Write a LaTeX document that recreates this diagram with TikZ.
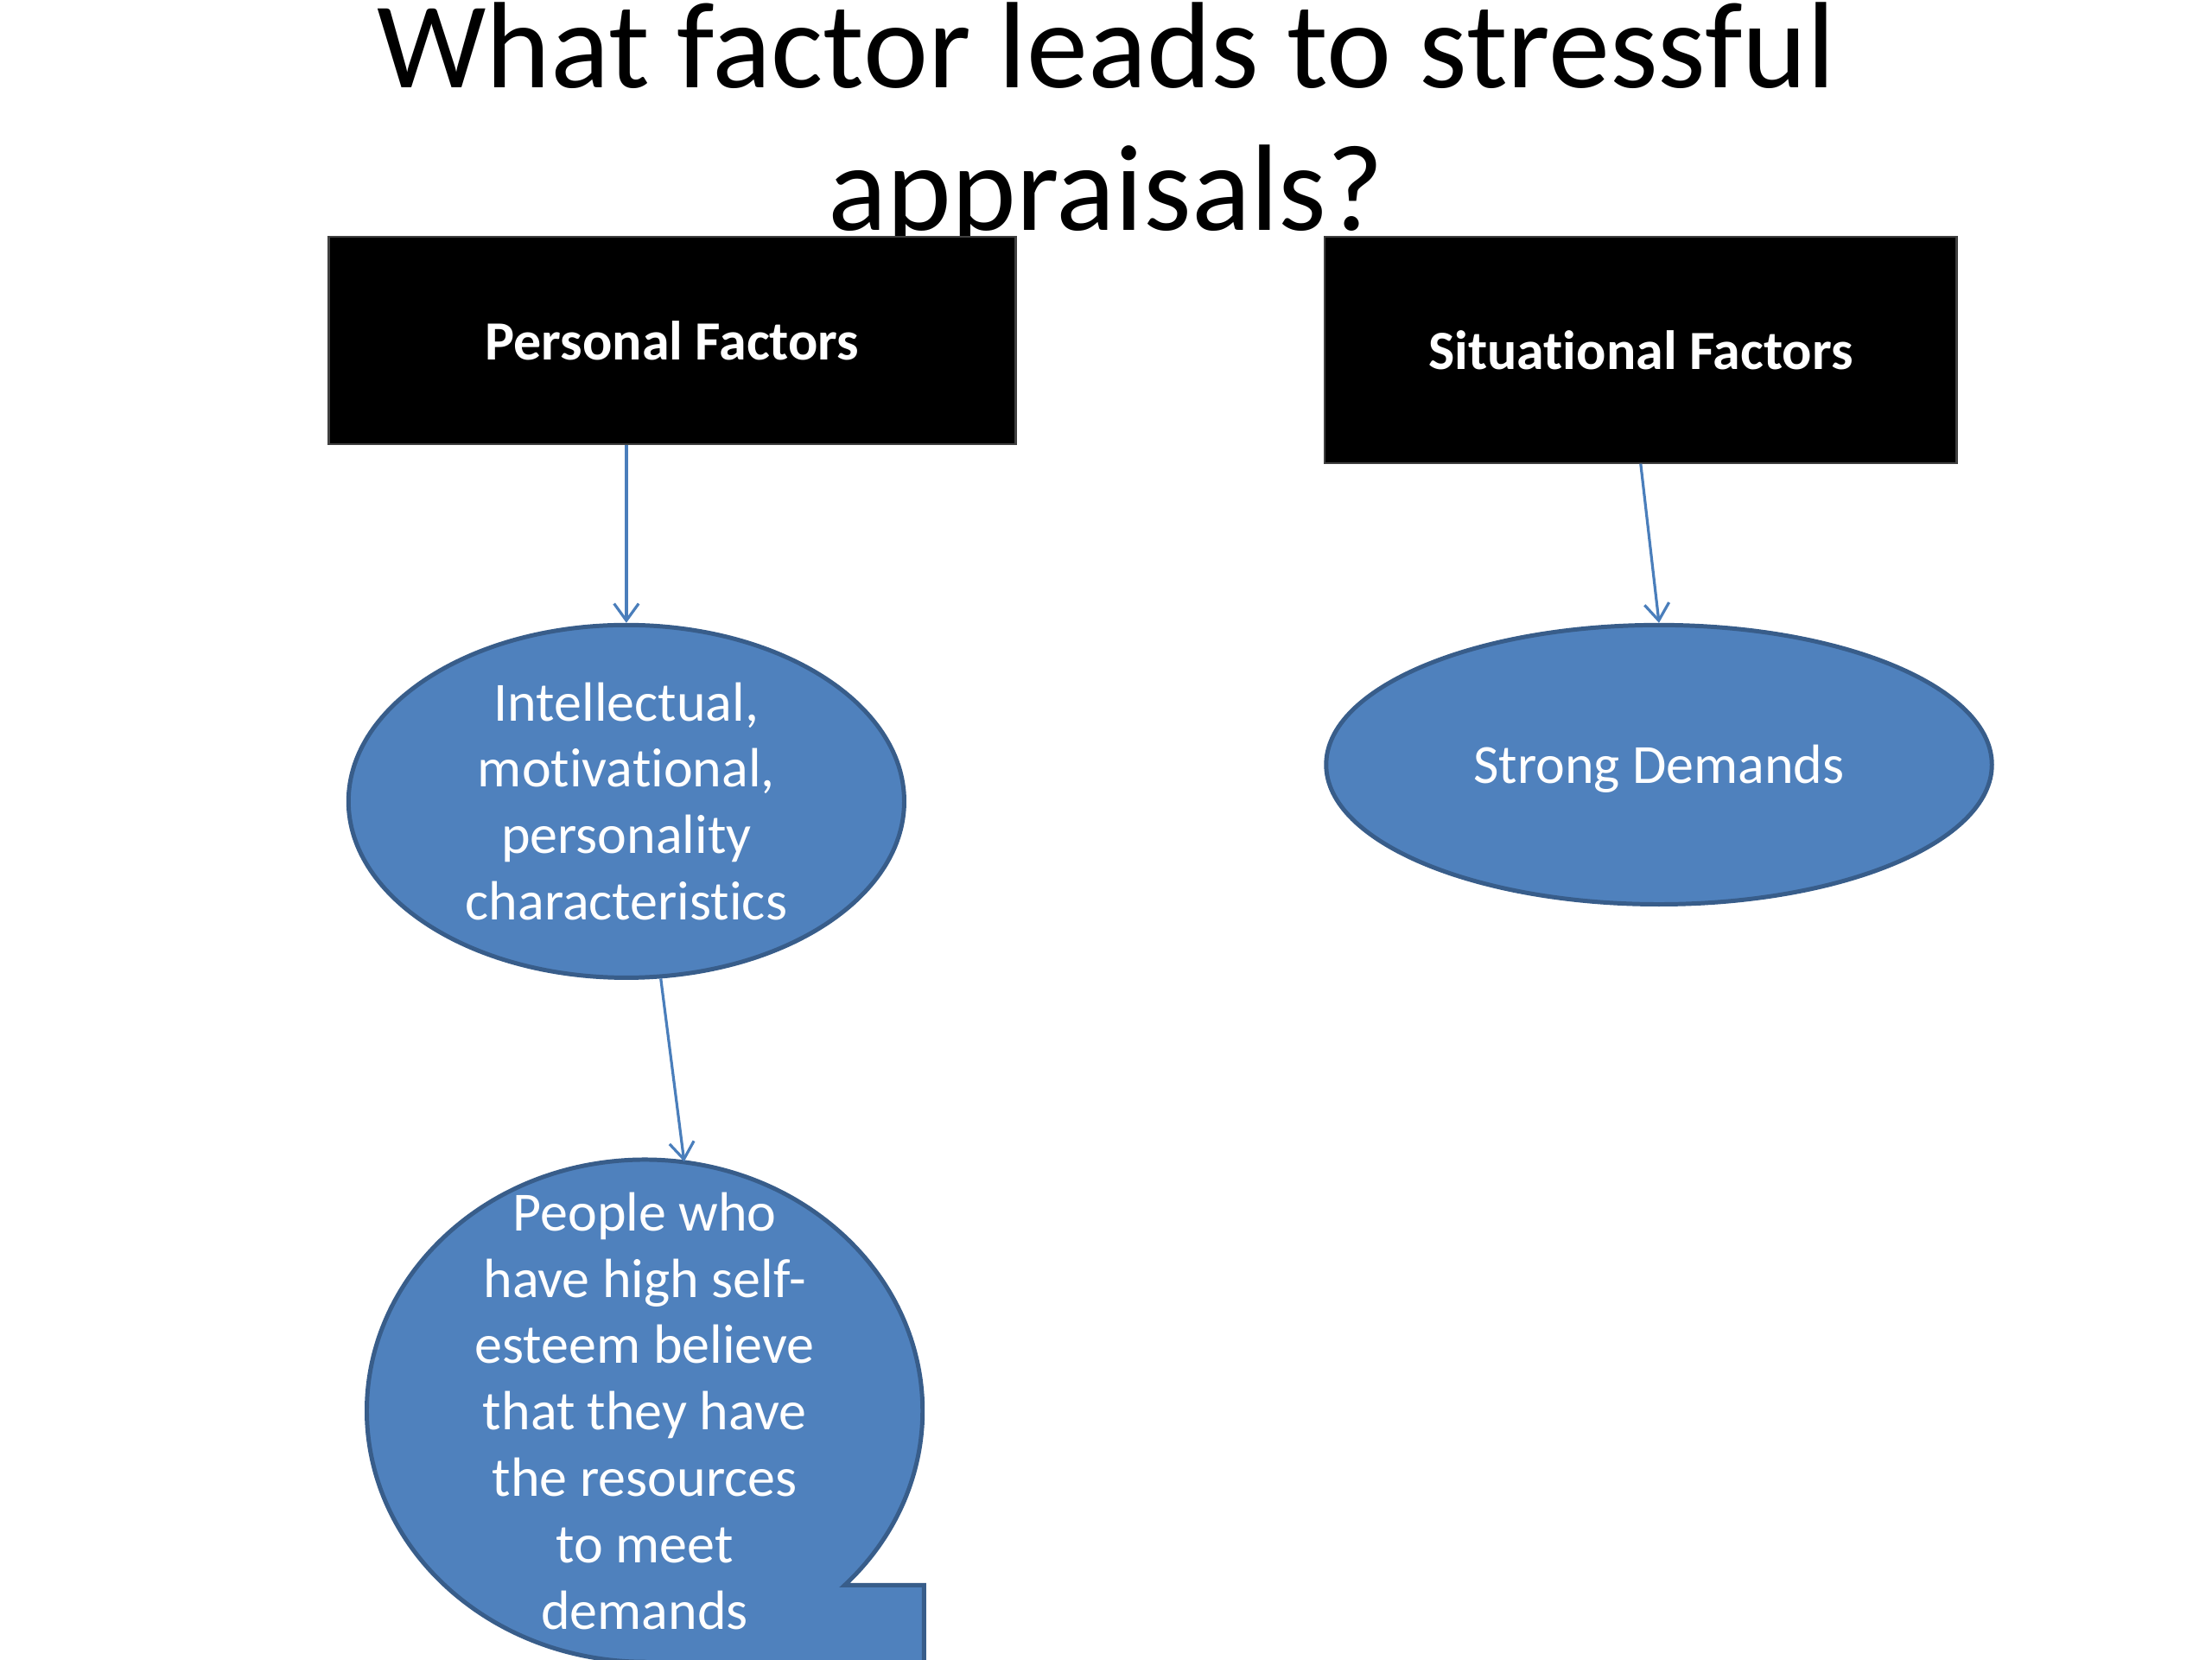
\documentclass[tikz,border=0pt]{standalone}
\usepackage{fontspec}
\setmainfont[Ligatures=CommonOff]{Carlito}
\usetikzlibrary{shapes.geometric,arrows.meta}
\definecolor{accfill}{HTML}{4F81BD}
\definecolor{accline}{HTML}{385D8A}
\definecolor{arrowc}{HTML}{4A7EBB}
\begin{document}
\begin{tikzpicture}[x=0.4592pt,y=-0.4592pt,
  titletext/.style={font=\fontsize{40}{46.4}\selectfont, anchor=base, inner sep=0},
  factorbox/.style={fill=black, draw=black!75, line width=0.6pt, text=white, font=\fontsize{18}{21.6}\selectfont\bfseries},
  bluefill/.style={fill=accfill, draw=accline, line width=1.4pt},
  oval/.style={ellipse, bluefill, inner sep=0},
  ovaltext/.style={text=white, align=center, font=\fontsize{18}{21.6}\selectfont, inner sep=0},
  link/.style={draw=arrowc, line width=0.9pt, -{Straight Barb[length=5.5pt,width=8pt]}}
]
\useasboundingbox (0,0) rectangle (1568,1176);
\clip (0,0) rectangle (1568,1176);
\fill[white] (0,0) rectangle (1568,1176);
\node[titletext] (t1) at (784,62) {What factor leads to stressful};
\node[titletext] (t2) at (784,163) {appraisals?};
\node[factorbox, minimum width=223.6pt, minimum height=67.5pt] (pf) at (476.5,241.5) {Personal Factors};
\node[factorbox, minimum width=205.7pt, minimum height=73.5pt] (sf) at (1163,248) {Situational Factors};
\node[oval, minimum width=180.9pt, minimum height=114.8pt, label={[ovaltext]center:{Intellectual,\\motivational,\\personality\\characteristics}}] (e1) at (444,568) {};
\node[oval, minimum width=216.7pt, minimum height=90.9pt, label={[ovaltext, yshift=-1.4pt]center:{Strong Demands}}] (e2) at (1176,542) {};
\path[bluefill] (655,1200) -- (655,1123.6) -- (598.7,1123.6) arc[start angle=-44, end angle=270, x radius=90.46pt, y radius=81.74pt] -- cycle;
\node[ellipse, minimum width=180.9pt, minimum height=163.5pt, inner sep=0, label={[ovaltext]center:{People who\\have high self-\\esteem believe\\that they have\\the resources\\to meet\\demands}}] (bubble) at (457,1000) {};
\draw[link] (pf.south -| e1.north) -- (e1.north);
\draw[link] (sf.south) -- (e2.north);
\draw[link] (e1.281.8) -- (bubble.81.7);
\end{tikzpicture}
\end{document}
